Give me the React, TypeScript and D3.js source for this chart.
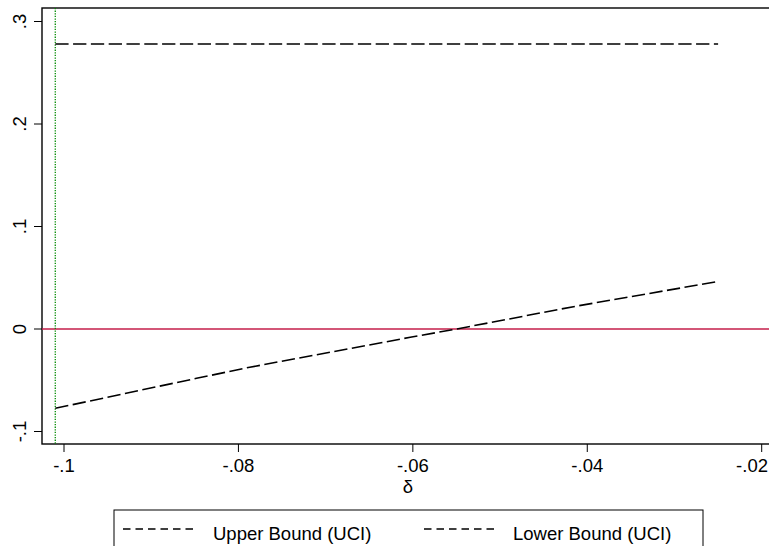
import React from "react";
import * as d3 from "d3";

const xTicks = [-0.1, -0.08, -0.06, -0.04, -0.02];
const xTickLabels = ["-.1", "-.08", "-.06", "-.04", "-.02"];
const yTicks = [-0.1, 0, 0.1, 0.2, 0.3];
const yTickLabels = ["-.1", "0", ".1", ".2", ".3"];

const deltaUpper = [-0.101, -0.025];
const upperBound = [0.278, 0.278];

const deltaLower = [-0.101, -0.0848, -0.0787, -0.0603, -0.055, -0.0412, -0.0253];
const lowerBound = [-0.0774, -0.0481, -0.0373, -0.0081, 0.0, 0.0224, 0.0459];

const refX = -0.101;
const refY = 0;

const legendLabels = ["Upper Bound (UCI)", "Lower Bound (UCI)"];

const W = 769;
const H = 546;
const FONT = "'Liberation Sans', Arial, sans-serif";

export default function App() {
  const x = d3.scaleLinear().domain([-0.1, -0.02]).range([64, 761.7]);
  const y = d3.scaleLinear().domain([-0.1, 0.3]).range([431.5, 21.5]);

  const left = 42;
  const right = 770;
  const top = 8;
  const bottom = 444;

  const line = d3
    .line<[number, number]>()
    .x((d) => x(d[0]))
    .y((d) => y(d[1]));

  const upperPts: [number, number][] = deltaUpper.map((d, i) => [d, upperBound[i]]);
  const lowerPts: [number, number][] = deltaLower.map((d, i) => [d, lowerBound[i]]);

  const dash = "13.3 4.5";

  return (
    <svg
      width={W}
      height={H}
      style={{ position: "absolute", left: 0, top: 0, background: "#fff" }}
      fontFamily={FONT}
    >
      <rect x={0} y={0} width={W} height={H} fill="#fff" />
      {/* plot frame */}
      <rect
        x={left}
        y={top}
        width={right - left}
        height={bottom - top}
        fill="none"
        stroke="#000"
        strokeWidth={1.4}
      />
      {/* reference lines */}
      <line
        x1={left}
        x2={right}
        y1={y(refY)}
        y2={y(refY)}
        stroke="#c41e4a"
        strokeWidth={1.4}
      />
      <line
        x1={x(refX)}
        x2={x(refX)}
        y1={top}
        y2={bottom}
        stroke="#008a00"
        strokeWidth={1.3}
        strokeDasharray="1.3 1.3"
      />
      {/* series */}
      <path
        d={line(upperPts) || ""}
        fill="none"
        stroke="#000"
        strokeWidth={1.6}
        strokeDasharray={dash}
      />
      <path
        d={line(lowerPts) || ""}
        fill="none"
        stroke="#000"
        strokeWidth={1.6}
        strokeDasharray={dash}
      />
      {/* x axis ticks */}
      {xTicks.map((t, i) => {
        const last = i === xTicks.length - 1;
        return (
          <g key={"xt" + i}>
            <line x1={x(t)} x2={x(t)} y1={bottom} y2={bottom + 8} stroke="#000" strokeWidth={1} />
            <text
              x={last ? W - 1 : x(t)}
              y={472}
              textAnchor={last ? "end" : "middle"}
              fontSize={18.5}
              fill="#000"
            >
              {xTickLabels[i]}
            </text>
          </g>
        );
      })}
      <text x={(left + right) / 2 + 2} y={493} textAnchor="middle" fontSize={18.5} fill="#000">
        δ
      </text>
      {/* y axis ticks */}
      {yTicks.map((t, i) => (
        <g key={"yt" + i}>
          <line x1={left - 8} x2={left} y1={y(t)} y2={y(t)} stroke="#000" strokeWidth={1} />
          <text
            transform={`translate(26,${y(t)}) rotate(-90)`}
            textAnchor="middle"
            fontSize={18.5}
            fill="#000"
          >
            {yTickLabels[i]}
          </text>
        </g>
      ))}
      {/* legend */}
      <rect x={114} y={510} width={589} height={60} fill="#fff" stroke="#000" strokeWidth={1} />
      <line x1={123} x2={197} y1={529} y2={529} stroke="#000" strokeWidth={1.5} strokeDasharray="7.5 5" />
      <text x={213} y={540} fontSize={18.5} fill="#000">
        {legendLabels[0]}
      </text>
      <line x1={424} x2={498} y1={529} y2={529} stroke="#000" strokeWidth={1.5} strokeDasharray="7.5 5" />
      <text x={513} y={540} fontSize={18.5} fill="#000">
        {legendLabels[1]}
      </text>
    </svg>
  );
}
